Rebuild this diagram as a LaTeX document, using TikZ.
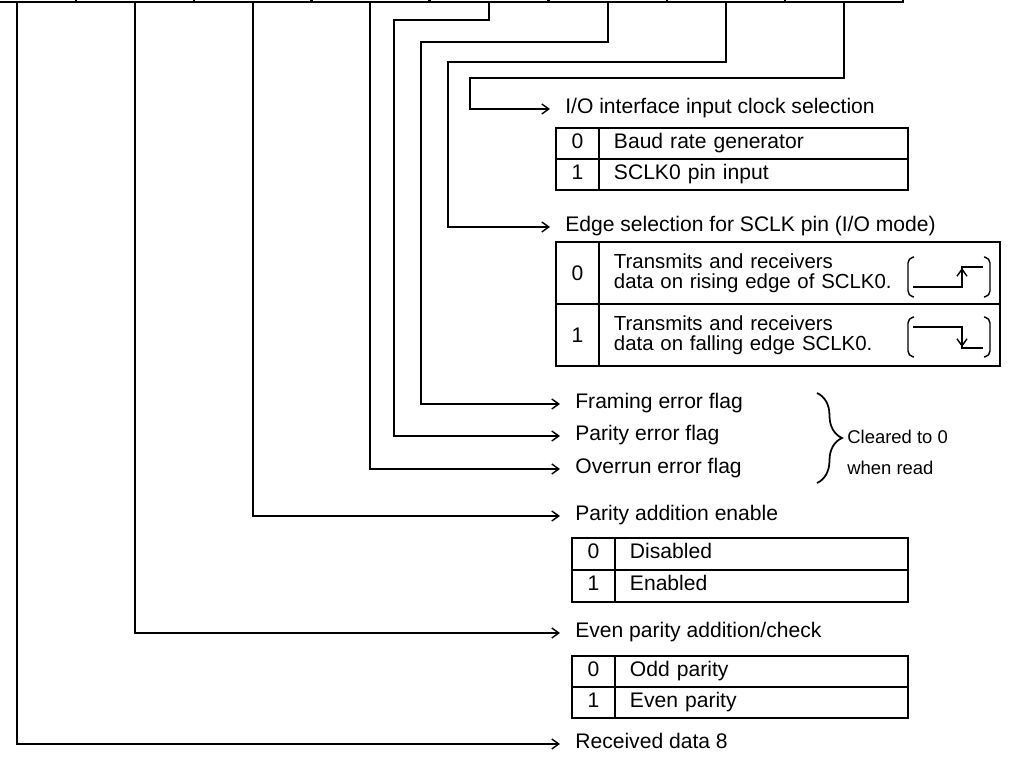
\documentclass[tikz,border=0pt]{standalone}
\usepackage{fontspec}
\setmainfont{Liberation Sans}
\usetikzlibrary{positioning,arrows.meta,calc,decorations.pathreplacing}

\begin{document}
\begin{tikzpicture}[
    x=0.02cm, y=-0.02cm,
    >={Straight Barb[length=1.4mm,width=2mm]},
    every node/.style={font=\fontsize{12}{14}\selectfont},
    regcell/.style={draw, line width=1pt, minimum width=2.36cm, minimum height=1cm, inner sep=0pt, outer sep=0pt, anchor=south},
    wire/.style={->, line width=0.8pt},
    lbl/.style={anchor=west, inner xsep=0.3cm, inner ysep=0pt, text height=0.75em, text depth=0.2em},
    numcell/.style={draw, line width=1pt, minimum width=0.86cm, inner sep=0pt, outer sep=0pt, anchor=north west},
    desccell/.style={draw, line width=1pt, inner xsep=0.3cm, inner ysep=0pt, outer sep=0pt, align=left, anchor=north west},
    rowtext/.style={text height=0.75em, text depth=0.2em, minimum height=0.62cm},
    wave/.style={line width=0.8pt},
    bracket/.style={line width=0.8pt, rounded corners=0.1cm},
]
\useasboundingbox (0,0) rectangle (1009,763);
\clip (0,0) rectangle (1009,763);

% ---- Register bits (only the lower edge shows) ----
\foreach \bitno/\cx in {7/17, 6/135, 5/253, 4/370, 3/489, 2/608, 1/726, 0/844}
    \node[regcell] (bit\bitno) at (\cx,2) {};

% ---- Bit labels ----
\node[lbl] (iosel) at (550,109) {I/O interface input clock selection};
\node[lbl] (edgesel) at (550,227) {Edge selection for SCLK pin (I/O mode)};
\node[lbl] (ferr) at (560,404) {Framing error flag};
\node[lbl] (perr) at (560,436) {Parity error flag};
\node[lbl] (oerr) at (560,469) {Overrun error flag};
\node[lbl] (paren) at (560,516) {Parity addition enable};
\node[lbl] (evenp) at (560,633) {Even parity addition/check};
\node[lbl] (rdata) at (560,744) {Received data 8};

% ---- Clock selection table ----
\node[numcell, rowtext] (clk0n) at (556,128) {0};
\node[desccell, rowtext, text width=5.58cm] (clk0d) at (clk0n.north east) {Baud rate generator};
\node[numcell, rowtext] (clk1n) at (clk0n.south west) {1};
\node[desccell, rowtext, text width=5.58cm] (clk1d) at (clk1n.north east) {SCLK0 pin input};

% ---- Edge selection table ----
\node[numcell, minimum height=1.24cm] (edge0n) at (556,242) {0};
\node[desccell, minimum height=1.24cm, text width=7.42cm, font=\fontsize{11.6}{11.6}\selectfont] (edge0d) at (edge0n.north east) {Transmits and receivers\\data on rising edge of SCLK0.};
\node[numcell, minimum height=1.24cm] (edge1n) at (edge0n.south west) {1};
\node[desccell, minimum height=1.24cm, text width=7.42cm, font=\fontsize{11.6}{11.6}\selectfont] (edge1d) at (edge1n.north east) {Transmits and receivers\\data on falling edge SCLK0.};

% rising edge
\draw[bracket] (914,257) -- (908,258) -- (908,296) -- (914,297);
\draw[bracket] (984,257) -- (990,258) -- (990,296) -- (984,297);
\draw[wave] (913,287) -- (962,287) -- (962,267) -- (983,267);
\draw[wave, ->] (962,287) -- (962,268);
% falling edge
\draw[bracket] (914,317) -- (908,318) -- (908,356) -- (914,357);
\draw[bracket] (984,317) -- (990,318) -- (990,356) -- (984,357);
\draw[wave] (913,327) -- (962,327) -- (962,348) -- (983,348);
\draw[wave, ->] (962,327) -- (962,347);

% ---- Error flags note ----
\draw[line width=1pt, decorate, decoration={brace, amplitude=0.5cm}] (817,393) -- (817,483);
\node[anchor=west, inner sep=0pt, font=\fontsize{10.5}{12}\selectfont] (clr) at (847,437) {Cleared to 0};
\node[anchor=west, inner sep=0pt, font=\fontsize{10.5}{12}\selectfont] (whenrd) at (847,468) {when read};

% ---- Parity enable table ----
\node[numcell, rowtext, minimum height=0.64cm] (pen0n) at (572,538) {0};
\node[desccell, rowtext, minimum height=0.64cm, text width=5.26cm] (pen0d) at (pen0n.north east) {Disabled};
\node[numcell, rowtext, minimum height=0.64cm] (pen1n) at (pen0n.south west) {1};
\node[desccell, rowtext, minimum height=0.64cm, text width=5.26cm] (pen1d) at (pen1n.north east) {Enabled};

% ---- Even parity table ----
\node[numcell, rowtext] (evn0n) at (572,656) {0};
\node[desccell, rowtext, text width=5.26cm] (evn0d) at (evn0n.north east) {Odd parity};
\node[numcell, rowtext] (evn1n) at (evn0n.south west) {1};
\node[desccell, rowtext, text width=5.26cm] (evn1d) at (evn1n.north east) {Even parity};

% ---- Wires from the bits ----
\coordinate (bend0) at (470,78);
\coordinate (bend1) at (448,62);
\coordinate (bend2) at (421,42);
\coordinate (bend3) at (394,20);

\draw[wire] (bit0.south) |- (bend0) |- (iosel.west);
\draw[wire] (bit1.south) |- (bend1) |- (edgesel.west);
\draw[wire] (bit2.south) |- (bend2) |- (ferr.west);
\draw[wire] (bit3.south) |- (bend3) |- (perr.west);
\draw[wire] (bit4.south) |- (oerr.west);
\draw[wire] (bit5.south) |- (paren.west);
\draw[wire] (bit6.south) |- (evenp.west);
\draw[wire] (bit7.south) |- (rdata.west);

\end{tikzpicture}
\end{document}
